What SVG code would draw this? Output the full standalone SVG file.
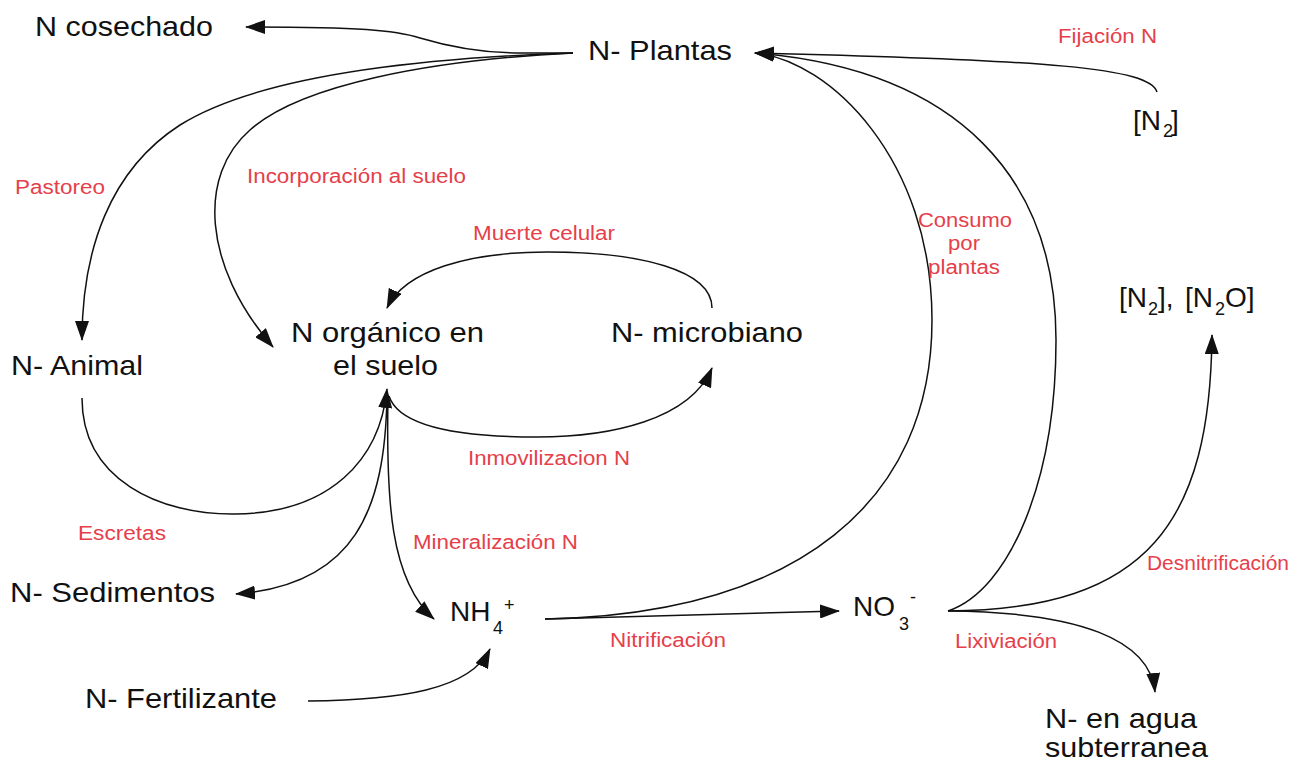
<svg xmlns="http://www.w3.org/2000/svg" width="1301" height="763" viewBox="0 0 1301 763">
<style>
.n{font-family:"Liberation Sans",Arial,sans-serif;font-size:28px;fill:#111}
.s{font-family:"Liberation Sans",Arial,sans-serif;font-size:18px;fill:#111}
.l{font-family:"Liberation Sans",Arial,sans-serif;font-size:20px;fill:#e5404a}
.c{fill:none;stroke:#111;stroke-width:1.5}
.a{marker-end:url(#ah)}
</style>
<defs>
<marker id="ah" markerUnits="userSpaceOnUse" markerWidth="20" markerHeight="14" refX="19" refY="7" orient="auto" viewBox="0 0 20 14">
<path d="M0,0 L20,7 L0,14 z" fill="#111"/>
</marker>
</defs>
<rect width="1301" height="763" fill="#fff"/>
<g id="connectors">
<path class="c a" d="M573,53 L520,53 C480,53 450,47 420,38 C395,30 360,27 246,27"/>
<path class="c a" d="M573,53 C420,58 260,75 180,125 C110,170 82,250 82,340"/>
<path class="c a" d="M573,53 C430,60 300,85 250,130 C198,175 202,265 273,347"/>
<path class="c a" d="M1157,92 C1150,68 1050,60 755,53"/>
<path class="c a" d="M545,619 C800,614 932,500 932,320 C932,160 830,60 755,53"/>
<path class="c a" d="M948,611 C1010,590 1056,480 1056,340 C1056,180 960,70 755,53"/>
<path class="c a" d="M545,619 L839,611"/>
<path class="c a" d="M948,611 C1150,610 1210,520 1212,335"/>
<path class="c a" d="M948,611 C1080,612 1150,640 1155,692"/>
<path class="c a" d="M712,308 C712,270 640,252 547,252 C470,252 405,270 387,308"/>
<path class="c a" d="M389,396 C400,430 470,437 537,437 C610,437 690,420 712,368"/>
<path class="c a" d="M82,398 C82,480 160,515 235,514 C330,513 380,460 387,389"/>
<path class="c a" d="M387,396 C385,510 355,585 236,594"/>
<path class="c a" d="M388,396 C386,500 390,580 434,619"/>
<path class="c a" d="M308,701 C400,700 470,690 490,649"/>
</g>
<g id="n-cosechado"><text class="n" x="35" y="36" textLength="178" lengthAdjust="spacingAndGlyphs">N cosechado</text></g>
<g id="n-plantas"><text class="n" x="588" y="60" textLength="144" lengthAdjust="spacingAndGlyphs">N- Plantas</text></g>
<g id="n2">
<text class="n" x="1133" y="130">[N</text>
<text class="s" x="1163" y="137">2</text>
<text class="n" x="1171" y="130">]</text>
</g>
<g id="n2-n2o">
<text class="n" x="1119" y="307">[N</text>
<text class="s" x="1148" y="315">2</text>
<text class="n" x="1158" y="307">],</text>
<text class="n" x="1185" y="307">[N</text>
<text class="s" x="1215" y="315">2</text>
<text class="n" x="1225" y="307">O]</text>
</g>
<g id="n-animal"><text class="n" x="11" y="375" textLength="132" lengthAdjust="spacingAndGlyphs">N- Animal</text></g>
<g id="n-organico">
<text class="n" x="291" y="342" textLength="193" lengthAdjust="spacingAndGlyphs">N orgánico en</text>
<text class="n" x="333" y="375" textLength="105" lengthAdjust="spacingAndGlyphs">el suelo</text>
</g>
<g id="n-microbiano"><text class="n" x="611" y="342" textLength="192" lengthAdjust="spacingAndGlyphs">N- microbiano</text></g>
<g id="n-sedimentos"><text class="n" x="10" y="602" textLength="205" lengthAdjust="spacingAndGlyphs">N- Sedimentos</text></g>
<g id="nh4">
<text class="n" x="450" y="621">NH</text>
<text class="s" x="493" y="634">4</text>
<text class="s" x="504" y="611">+</text>
</g>
<g id="no3">
<text class="n" x="853" y="616">NO</text>
<text class="s" x="899" y="630">3</text>
<text class="s" x="910" y="603">-</text>
</g>
<g id="n-fertilizante"><text class="n" x="85" y="708" textLength="192" lengthAdjust="spacingAndGlyphs">N- Fertilizante</text></g>
<g id="n-agua">
<text class="n" x="1045" y="728" textLength="152" lengthAdjust="spacingAndGlyphs">N- en agua</text>
<text class="n" x="1045" y="757" textLength="163" lengthAdjust="spacingAndGlyphs">subterranea</text>
</g>
<g id="edge-labels">
<text class="l" x="15" y="194" textLength="90" lengthAdjust="spacingAndGlyphs">Pastoreo</text>
<text class="l" x="247" y="183" textLength="219" lengthAdjust="spacingAndGlyphs">Incorporación al suelo</text>
<text class="l" x="473" y="240" textLength="142" lengthAdjust="spacingAndGlyphs">Muerte celular</text>
<text class="l" x="1058" y="43" textLength="99" lengthAdjust="spacingAndGlyphs">Fijación N</text>
<text class="l" x="918" y="227" textLength="94" lengthAdjust="spacingAndGlyphs">Consumo</text>
<text class="l" x="948" y="250" textLength="32" lengthAdjust="spacingAndGlyphs">por</text>
<text class="l" x="928" y="274" textLength="72" lengthAdjust="spacingAndGlyphs">plantas</text>
<text class="l" x="468" y="465" textLength="162" lengthAdjust="spacingAndGlyphs">Inmovilizacion N</text>
<text class="l" x="78" y="540" textLength="88" lengthAdjust="spacingAndGlyphs">Escretas</text>
<text class="l" x="413" y="549" textLength="165" lengthAdjust="spacingAndGlyphs">Mineralización N</text>
<text class="l" x="610" y="647" textLength="116" lengthAdjust="spacingAndGlyphs">Nitrificación</text>
<text class="l" x="955" y="648" textLength="102" lengthAdjust="spacingAndGlyphs">Lixiviación</text>
<text class="l" x="1147" y="570" textLength="142" lengthAdjust="spacingAndGlyphs">Desnitrificación</text>
</g>
</svg>
